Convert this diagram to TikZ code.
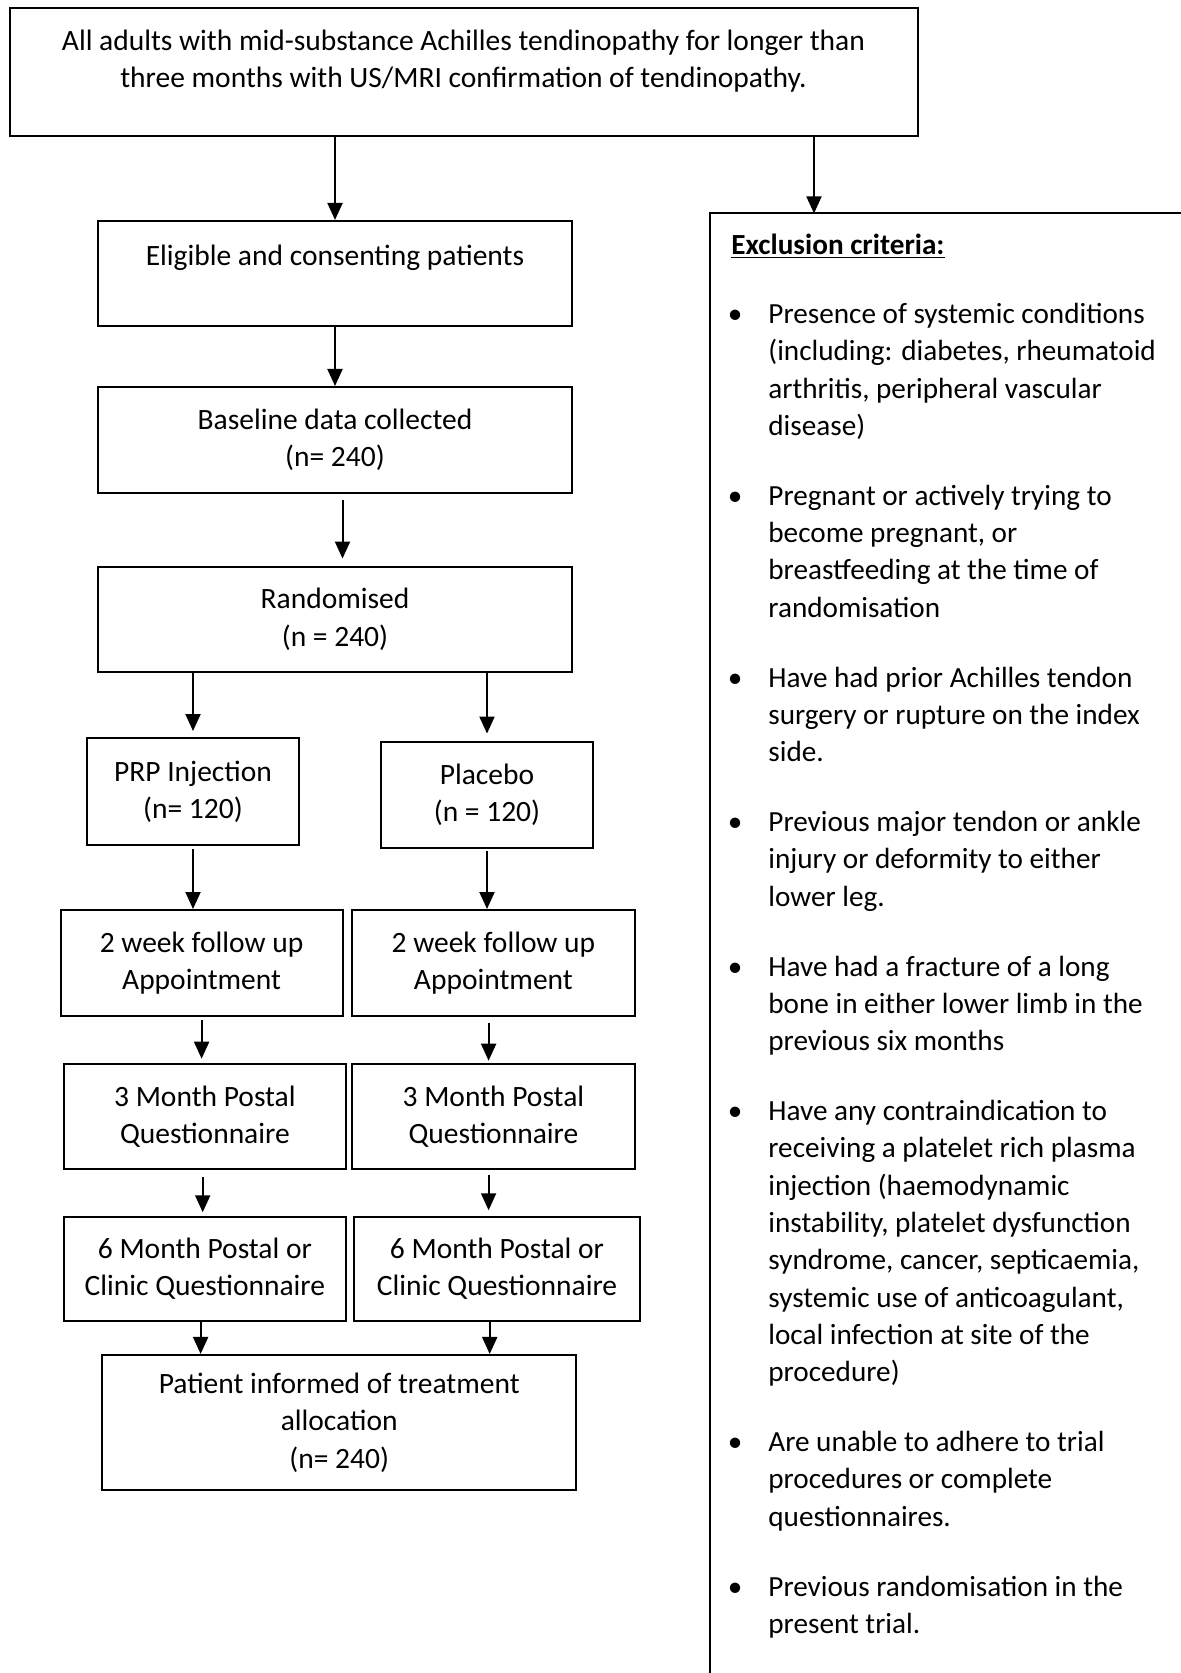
\documentclass[tikz,border=0pt]{standalone}
\usepackage{fontspec}
\setmainfont{Carlito}
\usepackage{tikz}
\usetikzlibrary{arrows.meta}

\begin{document}
\begin{tikzpicture}[x=0.5pt,y=-0.5pt,
    caja/.style={draw,line width=1pt,align=center,inner sep=0pt,
      font=\fontsize{14.75}{18.65}\selectfont},
    flecha/.style={line width=1pt,-{Triangle[length=8.5pt,width=7.5pt]}}]
  % Marco de la pagina
  \useasboundingbox (0,0) rectangle (1181,1673);
  \clip (0,0) rectangle (1181,1673);

  % Caja superior
  \node[caja,minimum width=454pt,minimum height=64pt] (adultos) at (463.5,72.5)
    {All adults with mid-substance Achilles tendinopathy for longer than\\
     three months with US/MRI confirmation of tendinopathy.\\[-4.8pt]~};

  % Columna central
  \node[caja,minimum width=237pt,minimum height=52.75pt] (elegibles) at (335,273.7)
    {Eligible and consenting patients\\~};
  \node[caja,minimum width=237pt,minimum height=53pt] (basal) at (335,440)
    {Baseline data collected\\(n= 240)};
  \node[caja,minimum width=237pt,minimum height=52.75pt] (aleatorio) at (335,619.3)
    {Randomised\\(n = 240)};

  % Dos ramas: PRP y placebo
  \node[caja,minimum width=105.6pt,minimum height=53.5pt] (prp) at (193,791.5)
    {PRP Injection\\(n= 120)};
  \node[caja,minimum width=106pt,minimum height=53.25pt] (placebo) at (487,794.8)
    {Placebo\\(n = 120)};

  % Seguimiento en cada rama
  \node[caja,minimum width=140.9pt,minimum height=52.9pt] (semA) at (201.6,962.9)
    {2 week follow up\\Appointment};
  \node[caja,minimum width=141.4pt,minimum height=52.9pt] (semB) at (493.4,962.9)
    {2 week follow up\\Appointment};
  \node[caja,minimum width=140.9pt,minimum height=52.8pt] (tresA) at (204.9,1116.5)
    {3 Month Postal\\Questionnaire};
  \node[caja,minimum width=141.4pt,minimum height=52.8pt] (tresB) at (493.4,1116.5)
    {3 Month Postal\\Questionnaire};
  \node[caja,minimum width=140.9pt,minimum height=51.75pt] (seisA) at (204.9,1269)
    {6 Month Postal or\\Clinic Questionnaire};
  \node[caja,minimum width=143pt,minimum height=51.75pt] (seisB) at (497,1269)
    {6 Month Postal or\\Clinic Questionnaire};

  % Caja final
  \node[caja,minimum width=236.8pt,minimum height=67.75pt] (informe) at (339.2,1422.7)
    {Patient informed of treatment\\allocation\\(n= 240)};

  % Criterios de exclusion (caja abierta por la derecha y abajo)
  \node[anchor=north west,inner xsep=10.75pt,inner ysep=10pt,text width=240pt,
        align=flush left,font=\fontsize{14.6}{18.65}\selectfont] (exclusion) at (709.5,213.4)
    {\textbf{\underline{Exclusion criteria:}}\par\kern8pt
     \setlength{\leftmargini}{18.5pt}\setlength{\labelsep}{13pt}%
     \setlength{\partopsep}{0pt}%
     \begin{itemize}\setlength{\itemsep}{12.3pt}\setlength{\parsep}{0pt}
      \item Presence of systemic conditions\\(including: diabetes, rheumatoid\\
            arthritis, peripheral vascular\\disease)
      \item Pregnant or actively trying to\\become pregnant, or\\
            breastfeeding at the time of\\randomisation
      \item Have had prior Achilles tendon\\surgery or rupture on the index\\side.
      \item Previous major tendon or ankle\\injury or deformity to either\\lower leg.
      \item Have had a fracture of a long\\bone in either lower limb in the\\
            previous six months
      \item Have any contraindication to\\receiving a platelet rich plasma\\
            injection (haemodynamic\\instability, platelet dysfunction\\
            syndrome, cancer, septicaemia,\\systemic use of anticoagulant,\\
            local infection at site of the\\procedure)
      \item Are unable to adhere to trial\\procedures or complete\\questionnaires.
      \item Previous randomisation in the\\present trial.
     \end{itemize}};
  \draw[line width=1pt] (exclusion.north west) ++(0,1500) -- (exclusion.north west) -- ++(520,0);

  % Flechas
  \draw[flecha] (adultos.south -| elegibles.north) -- (elegibles.north);
  \draw[flecha] (adultos.south -| 814,0) -- (exclusion.north -| 814,0);
  \draw[flecha] (elegibles.south) -- (basal.north);
  \draw[flecha,shorten <=3pt,shorten >=3.5pt] ([xshift=3.75pt]basal.south) -- ([xshift=3.75pt]aleatorio.north);
  \draw[flecha,shorten >=3pt] (aleatorio.south -| prp.north) -- (prp.north);
  \draw[flecha,shorten >=3.5pt] (aleatorio.south -| placebo.north) -- (placebo.north);
  \draw[flecha,shorten <=1.5pt] (prp.south) -- (prp.south |- semA.north);
  \draw[flecha,shorten <=1pt] (placebo.south) -- (placebo.south |- semB.north);
  \draw[flecha,shorten <=1.5pt,shorten >=2pt] (semA.south -| 201.6,0) -- (tresA.north -| 201.6,0);
  \draw[flecha,shorten <=3pt,shorten >=1pt] (semB.south -| 488.6,0) -- (tresB.north -| 488.6,0);
  \draw[flecha,shorten <=3.5pt,shorten >=2pt] (tresA.south -| 202.7,0) -- (seisA.north -| 202.7,0);
  \draw[flecha,shorten <=2.5pt,shorten >=3pt] (tresB.south -| 488.6,0) -- (seisB.north -| 488.6,0);
  \draw[flecha] (seisA.south -| 200.6,0) -- (informe.north -| 200.6,0);
  \draw[flecha] (seisB.south -| 489.7,0) -- (informe.north -| 489.7,0);
\end{tikzpicture}
\end{document}
